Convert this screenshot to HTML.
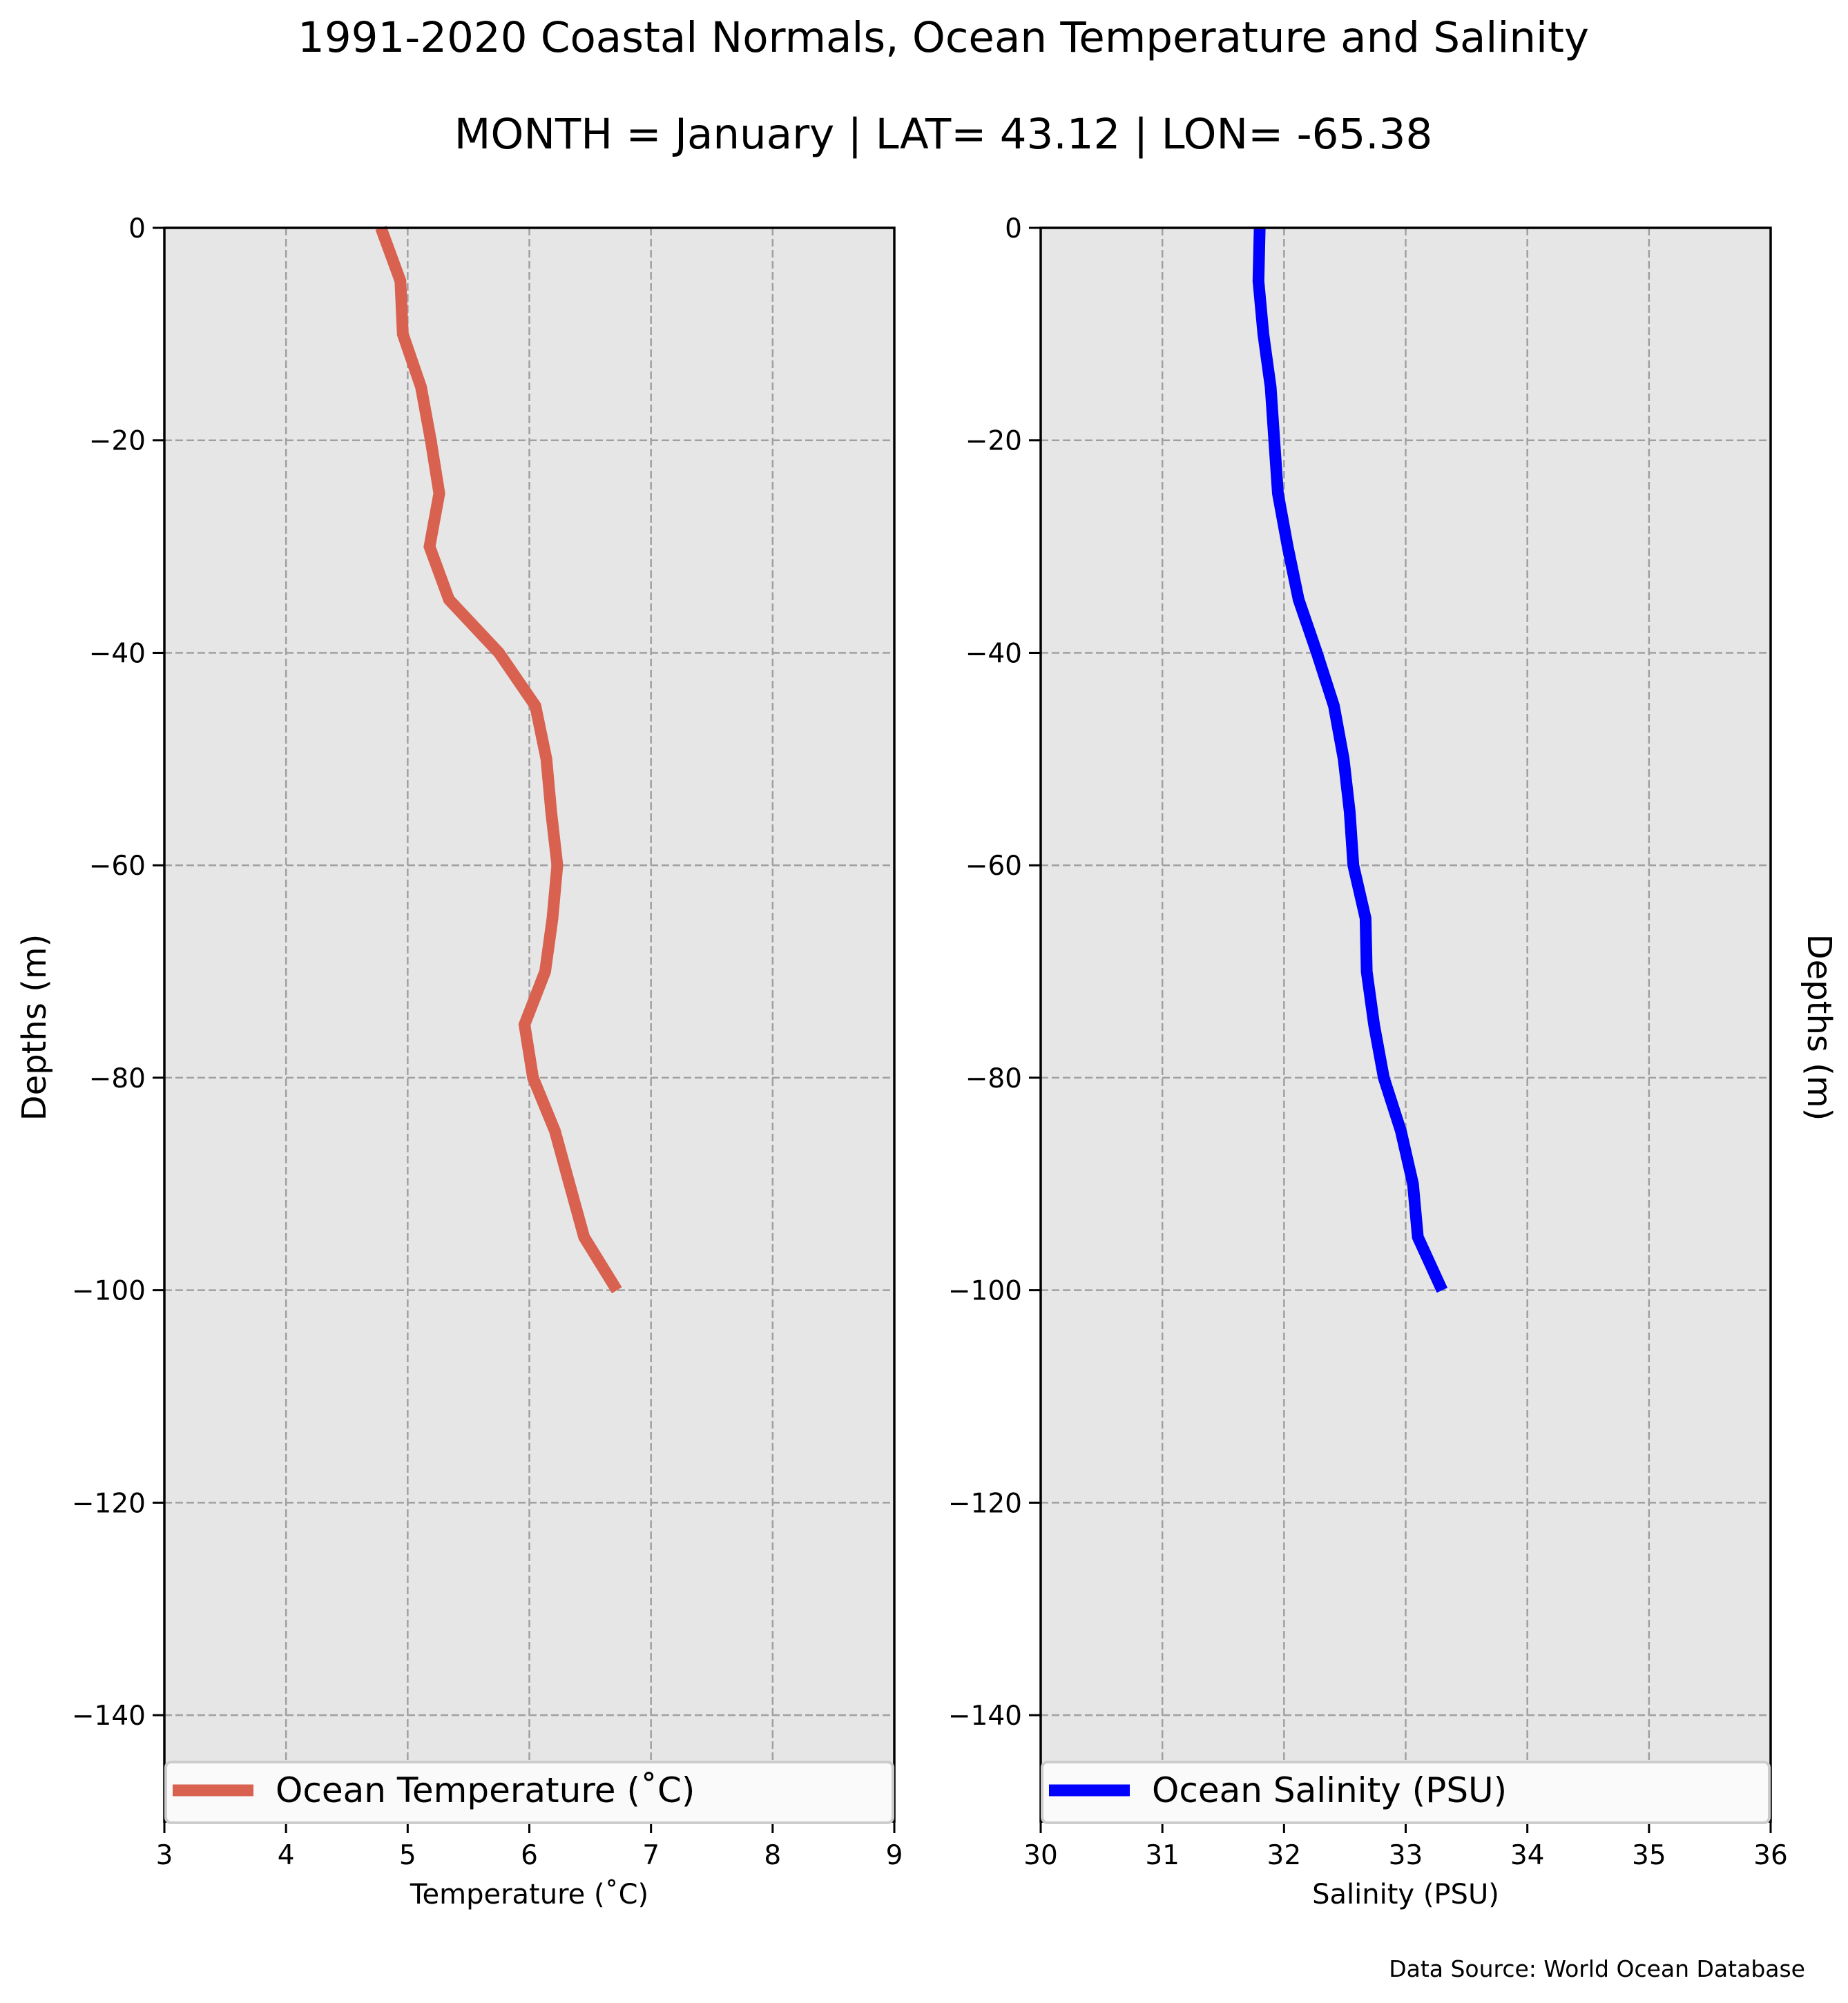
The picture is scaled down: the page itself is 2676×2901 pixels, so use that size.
<!DOCTYPE html>
<html><head><meta charset="utf-8"><style>
html,body{margin:0;padding:0;background:#fff;}
svg{display:block;font-family:"DejaVu Sans","Liberation Sans",sans-serif;}
</style></head><body>
<svg id="chart" width="2676" height="2901" viewBox="0 0 2676 2901" xmlns="http://www.w3.org/2000/svg">
<text x="1366" y="75" font-size="61" text-anchor="middle">1991-2020 Coastal Normals, Ocean Temperature and Salinity</text>
<text x="1366" y="215" font-size="61" text-anchor="middle">MONTH = January | LAT= 43.12 | LON= -65.38</text>
<text x="0" y="0" font-size="48" text-anchor="middle" transform="translate(66,1488) rotate(-90)">Depths (m)</text>
<text x="0" y="0" font-size="48" text-anchor="middle" transform="translate(2618,1488) rotate(90)">Depths (m)</text>
<text x="2614" y="2863" font-size="33" text-anchor="end">Data Source: World Ocean Database</text>
<g id="left"></g>
<g id="right"></g>
</svg>
<script>
const depths = [0,-5,-10,-15,-20,-25,-30,-35,-40,-45,-50,-55,-60,-65,-70,-75,-80,-85,-90,-95,-100];
const temperature = [4.78,4.94,4.96,5.11,5.19,5.26,5.18,5.34,5.75,6.05,6.14,6.18,6.23,6.19,6.13,5.96,6.03,6.21,6.33,6.45,6.72];
const salinity = [31.80,31.79,31.83,31.89,31.92,31.95,32.03,32.12,32.27,32.41,32.49,32.54,32.57,32.67,32.68,32.74,32.82,32.96,33.06,33.10,33.30];
const tempTicks = [3,4,5,6,7,8,9];
const salTicks = [30,31,32,33,34,35,36];
const depthTicks = [0,-20,-40,-60,-80,-100,-120,-140];

const NS = "http://www.w3.org/2000/svg";
const TOP = 330, BOT = 2638, YMIN = -150, YMAX = 0;
function yScale(v){ return TOP + (YMAX - v) / (YMAX - YMIN) * (BOT - TOP); }
function mk(tag, attrs, parent){ const e = document.createElementNS(NS, tag); for (const k in attrs) e.setAttribute(k, attrs[k]); parent.appendChild(e); return e; }

function panel(g, L, R, xmin, xmax, xticks, xs, color, legendText, xlabel, key){
  const xScale = v => L + (v - xmin) / (xmax - xmin) * (R - L);
  const bg = mk('rect', {x:L, y:TOP, width:R-L, height:BOT-TOP, fill:'#e6e6e6'}, g);
  
  
  xticks.forEach(t => {
    const gl = mk('line', {x1:xScale(t), x2:xScale(t), y1:TOP, y2:BOT, stroke:'#a0a0a0', 'stroke-width':2.5, 'stroke-dasharray':'11,5'}, g);
    
    
    const tk = mk('line', {x1:xScale(t), x2:xScale(t), y1:BOT, y2:BOT+17, stroke:'#000', 'stroke-width':3}, g);
    
    
    const tl = mk('text', {x:xScale(t), y:2700, 'font-size':39, 'text-anchor':'middle'}, g);
    tl.textContent = t;
    
    
  });
  depthTicks.forEach(t => {
    const gl = mk('line', {x1:L, x2:R, y1:yScale(t), y2:yScale(t), stroke:'#a0a0a0', 'stroke-width':2.5, 'stroke-dasharray':'11,5'}, g);
    
    
    const tk = mk('line', {x1:L-17, x2:L, y1:yScale(t), y2:yScale(t), stroke:'#000', 'stroke-width':3}, g);
    
    
    const tl = mk('text', {x:L-27, y:yScale(t)+14, 'font-size':39, 'text-anchor':'end'}, g);
    tl.textContent = t < 0 ? '\u2212' + Math.abs(t) : String(t);
    
    
  });
  const pts = xs.map((v, i) => xScale(v).toFixed(1) + ',' + yScale(depths[i]).toFixed(1)).join(' ');
  const line = mk('polyline', {points:pts, fill:'none', stroke:color, 'stroke-width':17, 'stroke-linejoin':'miter', 'stroke-linecap':'butt'}, g);
  
  
  const frame = mk('rect', {x:L, y:TOP, width:R-L, height:BOT-TOP, fill:'none', stroke:'#000', 'stroke-width':3.5}, g);
  
  
  const lg = mk('g', {}, g);
  
  
  mk('rect', {x:L+2, y:2552, width:R-L-4, height:88, rx:8, fill:'#fafafa', stroke:'#cccccc', 'stroke-width':4}, lg);
  const sw = mk('line', {x1:L+12, x2:L+129, y1:2593, y2:2593, stroke:color, 'stroke-width':17}, lg);
  
  
  const lt = mk('text', {x:L+161, y:2610, 'font-size':50}, lg);
  lt.textContent = legendText;
  
  
  const xl = mk('text', {x:(L+R)/2, y:2757, 'font-size':40, 'text-anchor':'middle'}, g);
  xl.textContent = xlabel;
  
  
}
panel(document.getElementById('left'), 238, 1295, 3, 9, tempTicks, temperature, '#d86150', 'Ocean Temperature (\u02DAC)', 'Temperature (\u02DAC)', 'temperature');
panel(document.getElementById('right'), 1507, 2564, 30, 36, salTicks, salinity, '#0000ff', 'Ocean Salinity (PSU)', 'Salinity (PSU)', 'salinity');
</script>
</body></html>
